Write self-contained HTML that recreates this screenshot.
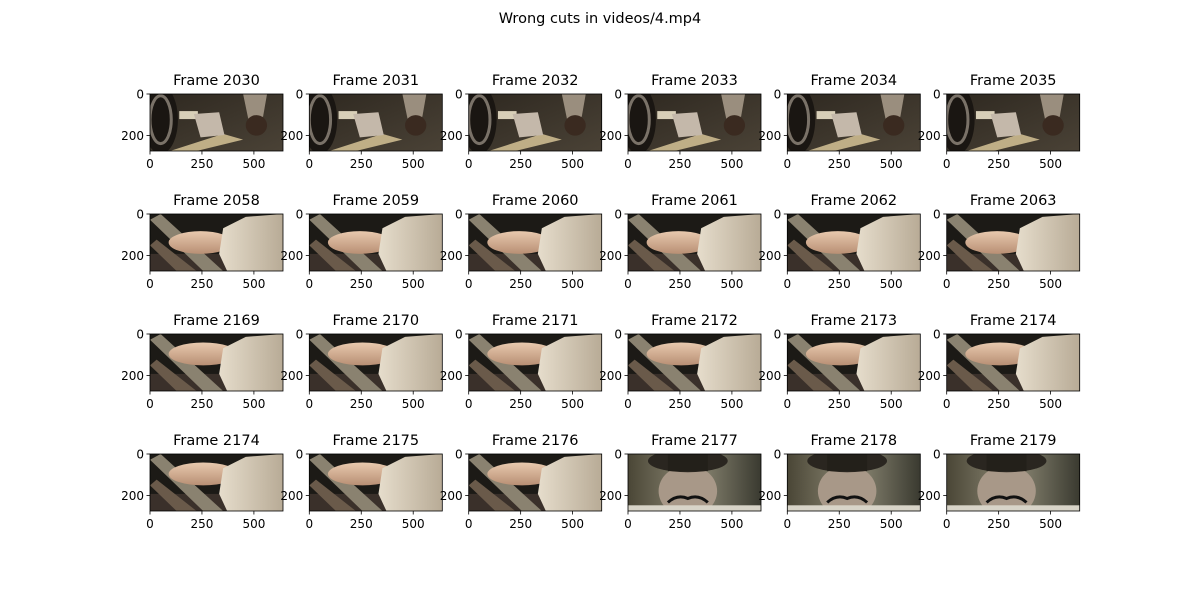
<!DOCTYPE html>
<html><head><meta charset="utf-8"><style>
html,body{margin:0;padding:0;background:#fff;}
svg{display:block;font-family:"DejaVu Sans","Liberation Sans",sans-serif;}
</style></head><body>
<svg id="fig" width="1200" height="600" viewBox="0 0 1200 600">
<rect width="1200" height="600" fill="#fff"/>
<text x="600" y="23" text-anchor="middle" font-size="14.5">Wrong cuts in videos/4.mp4</text>
<defs>
<linearGradient id="gCar" x1="0" y1="0" x2="1" y2="1"><stop offset="0" stop-color="#2e2820"/><stop offset="1" stop-color="#4a4236"/></linearGradient>
<linearGradient id="gSleeve" x1="0" y1="0" x2="1" y2="0"><stop offset="0" stop-color="#e6ddcc"/><stop offset="1" stop-color="#b8ab96"/></linearGradient>
<linearGradient id="gSkin" x1="0" y1="0" x2="0" y2="1"><stop offset="0" stop-color="#e8c9ae"/><stop offset="1" stop-color="#b88f74"/></linearGradient>
<linearGradient id="gFaceBg" x1="0" y1="0" x2="1" y2="0"><stop offset="0" stop-color="#4a4636"/><stop offset="0.5" stop-color="#8e8a76"/><stop offset="1" stop-color="#3a3a30"/></linearGradient>
</defs>
<g id="axes"></g>
</svg>
<script>
const rowFrames = [
  [2030,2031,2032,2033,2034,2035],
  [2058,2059,2060,2061,2062,2063],
  [2169,2170,2171,2172,2173,2174],
  [2174,2175,2176,2177,2178,2179]
];
const rowScenes = [
  ['car','car','car','car','car','car'],
  ['arm','arm','arm','arm','arm','arm'],
  ['hand','hand','hand','hand','hand','hand'],
  ['hand','hand','hand','face','face','face']
];
const xTicks = [0,250,500];
const yTicks = [0,200];
const imgW = 640, imgH = 275;

const NS = 'http://www.w3.org/2000/svg';
const root = document.getElementById('axes');
const colX = [150,309.3,468.7,628,787.3,946.7];
const rowY = [94,214,334,454];
const boxW = 133, boxH = 57;
function el(tag, attrs, parent){const e=document.createElementNS(NS,tag);for(const k in attrs)e.setAttribute(k,attrs[k]);(parent||root).appendChild(e);return e;}

function drawScene(g, type, x0, y0, w, h){
  const X=f=>x0+f*w, Y=f=>y0+f*h;
  if(type==='car'){
    el('rect',{x:x0,y:y0,width:w,height:h,fill:'url(#gCar)'},g);
    el('polygon',{points:`${X(0.15)},${Y(1)} ${X(0.55)},${Y(0.7)} ${X(0.7)},${Y(0.8)} ${X(0.35)},${Y(1)}`,fill:'#bfae86'},g);
    el('ellipse',{cx:X(0.08),cy:Y(0.45),rx:w*0.13,ry:h*0.6,fill:'#1a1612'},g);
    el('ellipse',{cx:X(0.08),cy:Y(0.45),rx:w*0.08,ry:h*0.42,fill:'none',stroke:'#7a7268','stroke-width':3},g);
    el('rect',{x:X(0.22),y:Y(0.3),width:w*0.14,height:h*0.14,fill:'#d8cfb8'},g);
    el('polygon',{points:`${X(0.33)},${Y(0.35)} ${X(0.52)},${Y(0.32)} ${X(0.56)},${Y(0.72)} ${X(0.38)},${Y(0.76)}`,fill:'#c4b8aa'},g);
    el('polygon',{points:`${X(0.7)},${Y(0)} ${X(0.88)},${Y(0)} ${X(0.85)},${Y(0.4)} ${X(0.74)},${Y(0.45)}`,fill:'#9a8e7e'},g);
    el('ellipse',{cx:X(0.8),cy:Y(0.55),rx:w*0.08,ry:h*0.18,fill:'#3a2a20'},g);
  } else if(type==='arm'||type==='hand'){
    el('rect',{x:x0,y:y0,width:w,height:h,fill:'#1c1a16'},g);
    el('rect',{x:x0,y:Y(0.7),width:w,height:h*0.3,fill:'#3a302a'},g);
    el('polygon',{points:`${X(0)},${Y(0.1)} ${X(0.08)},${Y(0)} ${X(0.55)},${Y(1)} ${X(0.4)},${Y(1)}`,fill:'#8a8270'},g);
    el('polygon',{points:`${X(0)},${Y(0.55)} ${X(0.05)},${Y(0.45)} ${X(0.35)},${Y(1)} ${X(0.2)},${Y(1)}`,fill:'#6a5a4a'},g);
    if(type==='arm'){
      el('ellipse',{cx:X(0.38),cy:Y(0.5),rx:w*0.24,ry:h*0.2,fill:'url(#gSkin)'},g);
    } else {
      el('ellipse',{cx:X(0.4),cy:Y(0.35),rx:w*0.26,ry:h*0.2,fill:'url(#gSkin)'},g);
    }
    el('polygon',{points:`${X(0.55)},${Y(0.25)} ${X(0.72)},${Y(0.05)} ${X(1)},${Y(0)} ${X(1)},${Y(1)} ${X(0.58)},${Y(1)} ${X(0.52)},${Y(0.7)}`,fill:'url(#gSleeve)'},g);
  } else {
    el('rect',{x:x0,y:y0,width:w,height:h,fill:'url(#gFaceBg)'},g);
    el('ellipse',{cx:X(0.45),cy:Y(0.65),rx:w*0.22,ry:h*0.45,fill:'#a89888'},g);
    el('ellipse',{cx:X(0.45),cy:Y(0.12),rx:w*0.3,ry:h*0.2,fill:'#2a2620'},g);
    el('rect',{x:X(0.3),y:Y(0),width:w*0.3,height:h*0.3,fill:'#23201a'},g);
    el('path',{d:`M${X(0.3)},${Y(0.85)} Q${X(0.37)},${Y(0.7)} ${X(0.45)},${Y(0.78)} Q${X(0.53)},${Y(0.7)} ${X(0.6)},${Y(0.85)}`,fill:'none',stroke:'#111','stroke-width':3},g);
    el('rect',{x:x0,y:Y(0.9),width:w,height:h*0.1,fill:'#d8d4c8'},g);
  }
}

rowFrames.forEach((frames,r)=>{
  frames.forEach((fr,c)=>{
    const x0=colX[c], y0=rowY[r];
    const sx=v=>x0+v/imgW*boxW, sy=v=>y0+v/imgH*boxH;
    const g=el('g',{});
    
    
    const cid='clip'+r+'_'+c;
    const cp=el('clipPath',{id:cid},g); el('rect',{x:x0,y:y0,width:boxW,height:boxH},cp);
    const ig=el('g',{'clip-path':`url(#${cid})`},g);
    
    
    drawScene(ig,rowScenes[r][c],x0,y0,boxW,boxH);
    el('rect',{x:x0,y:y0,width:boxW,height:boxH,fill:'none',stroke:'#000','stroke-width':0.8},g);
    const t=el('text',{x:x0+boxW/2,y:y0-9,'text-anchor':'middle','font-size':14.5},g);
    t.textContent='Frame '+fr;
    
    
    xTicks.forEach(v=>{
      const x=sx(v);
      el('line',{x1:x,x2:x,y1:y0+boxH,y2:y0+boxH+3.5,stroke:'#000','stroke-width':0.8},g);
      const tl=el('text',{x:x,y:y0+boxH+17,'text-anchor':'middle','font-size':12},g);
      tl.textContent=v;
      
      
    });
    yTicks.forEach(v=>{
      const y=sy(v);
      el('line',{x1:x0,x2:x0-3.5,y1:y,y2:y,stroke:'#000','stroke-width':0.8},g);
      const tl=el('text',{x:x0-6,y:y+4.3,'text-anchor':'end','font-size':12},g);
      tl.textContent=v;
      
      
    });
  });
});
</script>
</body></html>
